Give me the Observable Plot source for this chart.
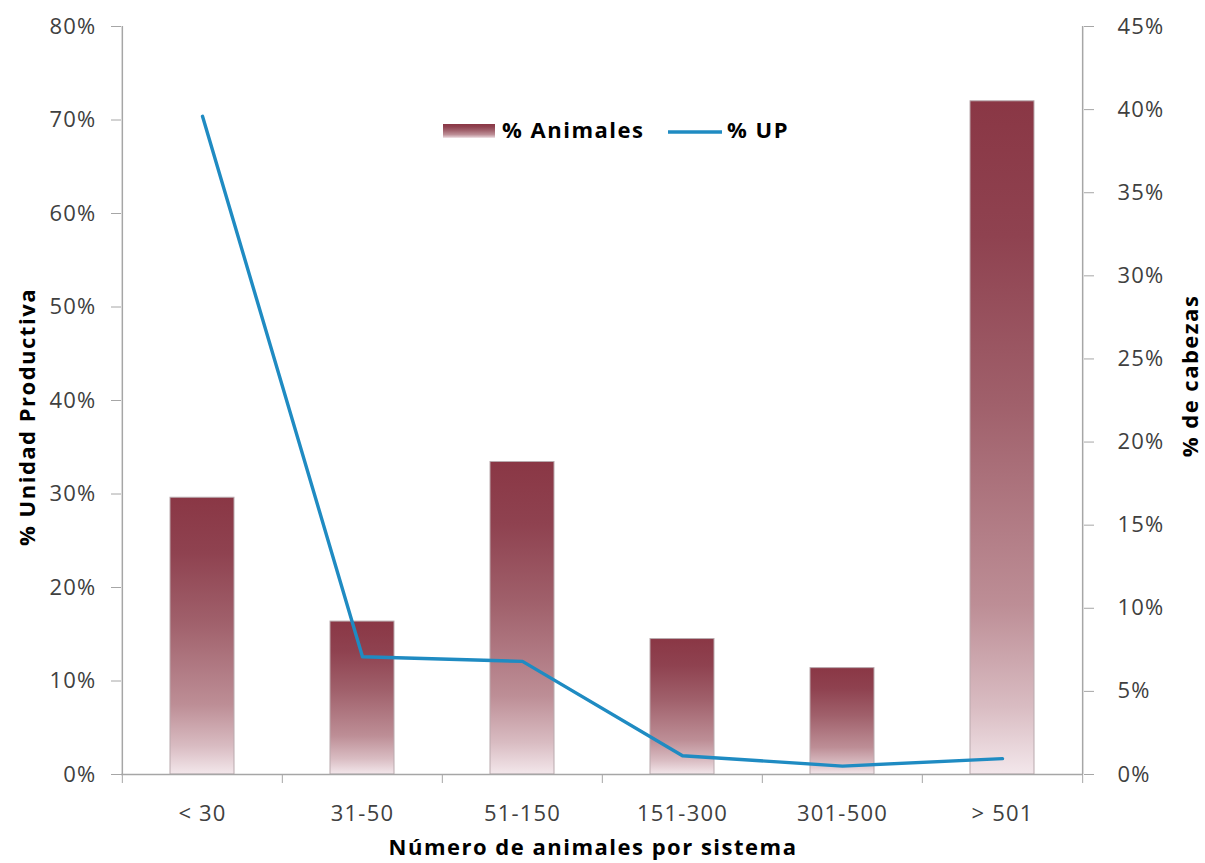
<!DOCTYPE html>
<html><head><meta charset="utf-8">
<script src="https://cdn.jsdelivr.net/npm/d3@7"></script>
<script src="https://cdn.jsdelivr.net/npm/@observablehq/plot@0.6"></script>
<style>
body{margin:0;background:#fff;}
#chart{position:relative;width:1205px;height:863px;}
</style></head><body><div id="chart"></div>
<script>
const categories = ["< 30", "31-50", "51-150", "151-300", "301-500", "> 501"];
const animales = [16.65, 9.2, 18.8, 8.15, 6.4, 40.5];   // % de cabezas (right axis)
const up = [70.4, 12.6, 12.1, 2.0, 0.9, 1.7];            // % Unidad Productiva (left axis)
const leftTicks = [0, 10, 20, 30, 40, 50, 60, 70, 80];
const rightTicks = [0, 5, 10, 15, 20, 25, 30, 35, 40, 45];
const seriesNames = ["% Animales", "% UP"];
const LEFT_MAX = 80, RIGHT_MAX = 45;
const k = LEFT_MAX / RIGHT_MAX;

const barData = categories.map((c, i) => ({cat: c, v: animales[i]}));
const lineData = categories.map((c, i) => ({cat: c, v: up[i]}));

const font = "'Open Sans', 'Noto Sans', sans-serif";
const W = 1205, H = 863, ML = 121, MR = 122, MT = 26, MB = 89;
const step = (W - ML - MR) / categories.length;
const axisGray = "#a6a6a6";

const plot = Plot.plot({
  width: W, height: H,
  marginLeft: ML, marginRight: MR, marginTop: MT, marginBottom: MB,
  style: {fontFamily: font, fontSize: "22px", color: "#404040", background: "#fff", letterSpacing: "1.2px"},
  x: {type: "band", domain: categories, paddingInner: 0.6, paddingOuter: 0.3, label: null},
  y: {domain: [0, LEFT_MAX], label: null},
  marks: [
    Plot.barY(barData, {x: "cat", y: d => d.v * k, fill: "url(#barGrad)", stroke: "#b9aaae", strokeWidth: 1}),
    Plot.ruleY([0], {stroke: axisGray, strokeWidth: 1.5}),
    Plot.ruleX([categories[0]], {y1: 0, y2: LEFT_MAX, dx: -step / 2, stroke: axisGray, strokeWidth: 1.5}),
    Plot.ruleX([categories[categories.length - 1]], {y1: 0, y2: LEFT_MAX, dx: step / 2, stroke: axisGray, strokeWidth: 1.5}),
    Plot.line(lineData, {x: "cat", y: "v", stroke: "#1f8bc2", strokeWidth: 3.4}),
    Plot.axisY(leftTicks, {anchor: "left", tickSize: 10, tickPadding: 15, tickFormat: d => d + "%", stroke: axisGray, label: null}),
    Plot.axisY(rightTicks.map(t => t * k), {anchor: "right", tickSize: 10, tickPadding: 24, tickFormat: d => Math.round(d / k) + "%", stroke: axisGray, label: null}),
    Plot.axisX({anchor: "bottom", tickSize: 0, tickPadding: 31, label: null}),
    Plot.axisX(categories, {anchor: "bottom", tickSize: 9, tickFormat: () => "", dx: -step / 2, stroke: axisGray, label: null}),
    Plot.axisX([categories[categories.length - 1]], {anchor: "bottom", tickSize: 9, tickFormat: () => "", dx: step / 2, stroke: axisGray, label: null})
  ]
});

document.getElementById("chart").appendChild(plot);
const svg = d3.select(plot);

const defs = svg.insert("defs", ":first-child");
const g = defs.append("linearGradient").attr("id", "barGrad").attr("x1", 0).attr("y1", 0).attr("x2", 0).attr("y2", 1);
[[0, "#8a3745"], [0.2, "#8f4250"], [0.45, "#a0606b"], [0.75, "#bd8e96"], [0.9, "#d9bcc2"], [1, "#f3e7eb"]]
  .forEach(([o, c]) => g.append("stop").attr("offset", o).attr("stop-color", c));

const titleStyle = t => t.style("font", `bold 22px ${font}`).style("letter-spacing", "1.5px").attr("fill", "#000");

// axis titles
titleStyle(svg.append("text").attr("transform", "translate(29,417) rotate(-90)")
  .attr("text-anchor", "middle").attr("dominant-baseline", "middle")).text("% Unidad Productiva");
titleStyle(svg.append("text").attr("transform", "translate(1192,376) rotate(-90)")
  .attr("text-anchor", "middle").attr("dominant-baseline", "middle")).text("% de cabezas");
titleStyle(svg.append("text").attr("x", 593).attr("y", 849)
  .attr("text-anchor", "middle").attr("dominant-baseline", "middle")).text("Número de animales por sistema");

// legend
const lg = svg.append("g");
lg.append("rect").attr("x", 443).attr("y", 124).attr("width", 52).attr("height", 14)
  .attr("fill", "url(#barGrad)");
titleStyle(lg.append("text").attr("x", 502).attr("y", 132).attr("text-anchor", "start")
  .attr("dominant-baseline", "middle")).text(seriesNames[0]);
lg.append("line").attr("x1", 668).attr("x2", 722).attr("y1", 132).attr("y2", 132)
  .attr("stroke", "#1f8bc2").attr("stroke-width", 3.4);
titleStyle(lg.append("text").attr("x", 727).attr("y", 132).attr("text-anchor", "start")
  .attr("dominant-baseline", "middle")).text(seriesNames[1]);
</script>
</body></html>
